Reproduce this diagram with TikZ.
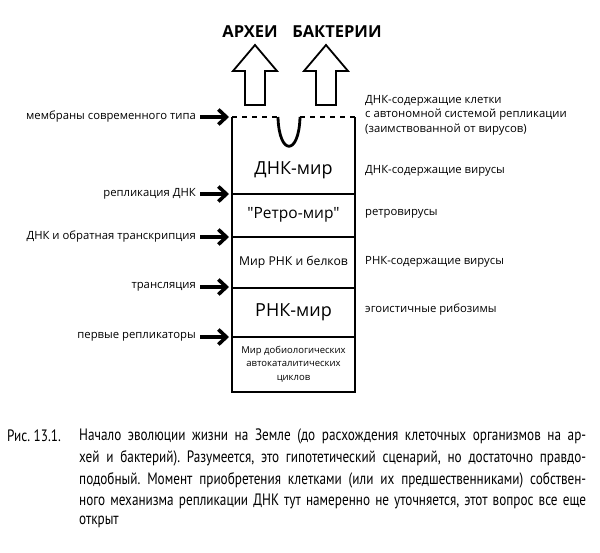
\documentclass[tikz,border=0pt]{standalone}
\usepackage{fontspec}
\setmainfont{Open Sans}
\newfontfamily\rawfont{Open Sans}
\newfontfamily\capfont[FakeStretch=0.8]{PT Sans}
\usetikzlibrary{arrows.meta}
\begin{document}
\frenchspacing
\begin{tikzpicture}[x=1pt,y=-1pt,
  lab/.style={inner sep=0pt, font=\fontsize{11.3}{14.5}\selectfont},
  llab/.style={lab, anchor=east},
  rlab/.style={lab, anchor=west, align=left},
  inarrow/.style={line width=3.6pt, -{Straight Barb[length=8pt,width=15pt]}, shorten <=4pt},
  boxline/.style={line width=2.6pt},
  divline/.style={line width=2pt},
  uparrow/.style={line width=1.8pt, line join=miter},
  title/.style={inner sep=0pt, font=\fontsize{16.5}{18}\selectfont\bfseries},
  big/.style={inner sep=0pt, font=\fontsize{18}{20}\selectfont},
  mid/.style={inner sep=0pt, font=\rawfont\fontsize{15.5}{18}\selectfont},
  small/.style={inner sep=0pt, font=\fontsize{12.2}{14}\selectfont},
  tiny/.style={inner sep=0pt, align=center, font=\fontsize{9.5}{13.5}\selectfont},
  capline/.style={anchor=west, inner sep=0pt, font=\capfont\fontsize{16.5}{17}\selectfont},
]
\useasboundingbox (0,0) rectangle (600,552);
% titles
\node[title] (arch) at (250,32) {АРХЕИ};
\node[title] (bact) at (337,32) {БАКТЕРИИ};
% hollow up arrows
\draw[uparrow] (245,105) -- (245,71) -- (233,71) -- (255,45) -- (277,71) -- (265,71) -- (265,105) -- cycle;
\draw[uparrow] (316,105) -- (316,71) -- (304,71) -- (326,45) -- (348,71) -- (336,71) -- (336,105) -- cycle;
% box
\draw[boxline] (232,117) -- (232,392) -- (355,392) -- (355,117);
\draw[divline, dash pattern=on 5pt off 5pt] (232,117) -- (278,117);
\draw[divline, dash pattern=on 5pt off 5pt] (300,117) -- (355,117);
\draw[line width=2.8pt] (278,117) .. controls (279,156) and (299,156) .. (300,117);
\draw[divline] (232,194) -- (355,194);
\draw[divline] (232,237) -- (355,237);
\draw[divline] (232,288) -- (355,288);
\draw[divline] (232,337) -- (355,337);
% box texts
\node[big] (dnaw) at (293.5,170) {ДНК-мир};
\node[mid] (retro) at (293.5,215) {"Ретро-мир"};
\node[small] (rnap) at (293.5,262) {Мир РНК и белков};
\node[big] (rnaw) at (293.5,312) {РНК-мир};
\node[tiny] (prebio) at (293.5,364) {Мир добиологических\\автокаталитических\\циклов};
% left labels and arrows
\coordinate (a1) at (229,117);
\coordinate (a2) at (229,194);
\coordinate (a3) at (229,237);
\coordinate (a4) at (229,287);
\coordinate (a5) at (229,337);
\node[llab] (l1) at (196,117) {мембраны современного типа};
\node[llab] (l2) at (196,194) {репликация ДНК};
\node[llab] (l3) at (196,237) {ДНК и обратная транскрипция};
\node[llab] (l4) at (196,287) {трансляция};
\node[llab] (l5) at (196,337) {первые репликаторы};
\draw[inarrow] (l1.east) -- (a1);
\draw[inarrow] (l2.east) -- (a2);
\draw[inarrow] (l3.east) -- (a3);
\draw[inarrow] (l4.east) -- (a4);
\draw[inarrow] (l5.east) -- (a5);
% right labels
\node[rlab] (r1) at (365,115) {ДНК-содержащие клетки\\с автономной системой репликации\\(заимствованной от вирусов)};
\node[rlab] (r2) at (365,171) {ДНК-содержащие вирусы};
\node[rlab] (r3) at (365,214) {ретровирусы};
\node[rlab] (r4) at (365,262) {РНК-содержащие вирусы};
\node[rlab] (r5) at (365,310) {эгоистичные рибозимы};
% caption
\node[capline] (fig) at (7,436) {Рис. 13.1.};
\node[capline] (c1) at (79,436) {\makebox[507pt][s]{Начало эволюции жизни на Земле (до расхождения клеточных организмов на ар-}};
\node[capline] (c2) at (79,458) {\makebox[507pt][s]{хей и бактерий). Разумеется, это гипотетический сценарий, но достаточно правдо-}};
\node[capline] (c3) at (79,480) {\makebox[507pt][s]{подобный. Момент приобретения клетками (или их предшественниками) собствен-}};
\node[capline] (c4) at (79,501) {\makebox[507pt][s]{ного механизма репликации ДНК тут намеренно не уточняется, этот вопрос все еще}};
\node[capline] (c5) at (79,522) {открыт};
\end{tikzpicture}
\end{document}
